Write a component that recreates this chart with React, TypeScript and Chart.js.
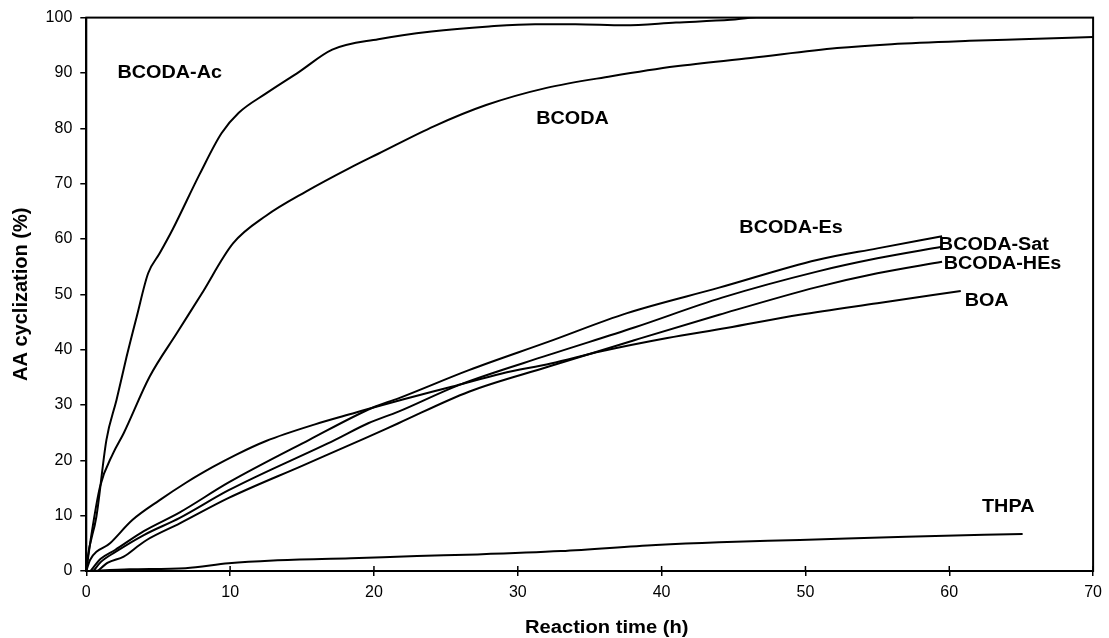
import React, { useEffect, useRef } from "react";
import { Chart, registerables } from "chart.js";

Chart.register(...registerables);

const FONT = '"Liberation Sans", Arial, Helvetica, sans-serif';

// Reaction time (h) / AA cyclization (%)
const acX = [0, 0.07, 0.7, 1.4, 2.1, 2.8, 3.5, 4.3, 5.1, 6, 7.9, 9.4, 10.6, 12.5, 14.8, 17.1, 20.3, 24, 28, 31.2, 34, 37.4, 41, 44.8, 46.6, 57.5];
const acY = [0, 2, 9.8, 23.7, 30.9, 38.7, 45.9, 53.8, 57.4, 61.7, 71.8, 79.1, 82.8, 86.3, 90.2, 94.2, 96.1, 97.5, 98.4, 98.8, 98.8, 98.6, 99.1, 99.6, 100, 100];

const bcodaX = [0, 0.37, 0.95, 1.87, 2.6, 4.4, 6.3, 8, 10.2, 12.5, 15.3, 18.3, 20.3, 24.2, 27.8, 32, 36.5, 41, 46.2, 52.2, 56, 61.4, 65, 70];
const bcodaY = [0, 6.8, 15.2, 21.3, 24.9, 35.1, 43, 50, 59.2, 64.2, 68.6, 72.8, 75.4, 80.4, 84.2, 87.3, 89.4, 91.2, 92.7, 94.5, 95.2, 95.8, 96.1, 96.5];

const esX = [0.3, 1, 2, 4, 6.5, 9.9, 15.5, 19.9, 21.7, 26.6, 32.1, 37.6, 44, 50.8, 55, 59.5];
const esY = [0, 2.2, 3.8, 7.2, 10.6, 16, 23.7, 29.5, 31.2, 36.3, 41.4, 46.6, 51.2, 56.2, 58.3, 60.5];

const satX = [0.5, 1, 2, 4, 6.5, 9.9, 17.3, 19.6, 21.7, 25.9, 32.1, 38.1, 44.2, 50.8, 55, 59.5];
const satY = [0, 1.6, 3.4, 6.5, 9.6, 14.6, 23.7, 26.7, 28.8, 33.6, 39, 44, 49.4, 54.1, 56.5, 58.6];

const hesX = [0.8, 1.5, 2.6, 3.7, 4.2, 6.5, 9.9, 15, 19.4, 21.7, 26.6, 32.1, 38.1, 44, 50.8, 55, 59.5];
const hesY = [0, 1.5, 2.6, 4.7, 5.6, 8.6, 13.2, 19, 24, 26.7, 32.4, 36.9, 41.7, 46.3, 51.3, 53.8, 55.9];

const boaX = [0, 0.26, 1.65, 3.2, 5.1, 6.9, 8.8, 10.4, 12.5, 15.9, 18.7, 19.9, 22, 25.4, 28.9, 32.3, 35.8, 40.4, 44.5, 49.6, 55, 60.8];
const boaY = [0, 2, 5, 9.2, 12.8, 15.9, 18.8, 21.0, 23.5, 26.5, 28.6, 29.5, 31, 33.3, 35.7, 37.5, 39.7, 42.1, 43.9, 46.3, 48.4, 50.6];

const thpaX = [0, 3, 6.9, 9.9, 13, 18.4, 23, 27.2, 33, 39.6, 44, 49.6, 57, 65.1];
const thpaY = [0, 0.3, 0.5, 1.4, 1.9, 2.3, 2.7, 3.0, 3.6, 4.7, 5.2, 5.6, 6.2, 6.7];

const seriesNames = ["BCODA-Ac", "BCODA", "BCODA-Es", "BCODA-Sat", "BCODA-HEs", "BOA", "THPA"];
const seriesX = [acX, bcodaX, esX, satX, hesX, boaX, thpaX];
const seriesY = [acY, bcodaY, esY, satY, hesY, boaY, thpaY];

// label anchors (data coordinates)
const labelX = [5.8, 33.8, 49.0, 63.1, 63.7, 62.6, 64.1];
const labelY = [90.0, 81.7, 61.9, 58.9, 55.4, 48.7, 11.6];

const xTitle = "Reaction time (h)";
const xTicks = [0, 10, 20, 30, 40, 50, 60, 70];

function stretchedText(ctx: any, text: string, x: number, y: number, sx: number) {
  ctx.save();
  ctx.translate(x, y);
  ctx.scale(sx, 1);
  ctx.fillText(text, 0, 0);
  ctx.restore();
}

const framePlugin = {
  id: "frameAndLabels",
  afterDatasetsDraw(chart: any) {
    const { ctx, chartArea, scales } = chart;
    const xs = scales.x;
    const ys = scales.y;
    ctx.save();
    ctx.strokeStyle = "#000";
    ctx.lineWidth = 2;
    ctx.strokeRect(chartArea.left, chartArea.top, chartArea.right - chartArea.left, chartArea.bottom - chartArea.top);
    // upper half of crossing x ticks
    ctx.lineWidth = 1.5;
    for (const t of xTicks) {
      const px = xs.getPixelForValue(t);
      ctx.beginPath();
      ctx.moveTo(px, chartArea.bottom - 5);
      ctx.lineTo(px, chartArea.bottom);
      ctx.stroke();
    }
    ctx.fillStyle = "#000";
    ctx.font = `bold 18px ${FONT}`;
    ctx.textAlign = "center";
    ctx.textBaseline = "middle";
    seriesNames.forEach((n, i) => {
      stretchedText(ctx, n, xs.getPixelForValue(labelX[i]), ys.getPixelForValue(labelY[i]), 1.1);
    });
    // x axis title, sitting a little right of centre as in the original
    ctx.font = `bold 18px ${FONT}`;
    stretchedText(ctx, xTitle, (chartArea.left + chartArea.right) / 2 + 17, chart.height - 10, 1.12);
    ctx.restore();
  },
};

export default function App() {
  const ref = useRef<HTMLCanvasElement>(null);
  useEffect(() => {
    const datasets = seriesNames.map((name, i) => ({
      label: name,
      data: seriesX[i].map((x, j) => ({ x, y: seriesY[i][j] })),
      borderColor: "#000",
      backgroundColor: "#000",
      borderWidth: 2,
      pointRadius: 0,
      fill: false,
      cubicInterpolationMode: "monotone" as const,
    }));
    const chart = new Chart(ref.current!, {
      type: "line",
      data: { datasets },
      plugins: [framePlugin],
      options: {
        animation: false,
        responsive: true,
        maintainAspectRatio: false,
        layout: { padding: { top: 17.5, right: 12, left: 0, bottom: 0 } },
        plugins: { legend: { display: false }, tooltip: { enabled: false } },
        scales: {
          x: {
            type: "linear",
            min: 0,
            max: 70,
            afterFit: (s: any) => { s.height = 67; },
            border: { display: true, color: "#000", width: 2 },
            grid: { drawOnChartArea: false, drawTicks: true, tickLength: 5, color: "#000", lineWidth: 1.5 },
            ticks: { stepSize: 10, color: "#000", font: { family: FONT, size: 16 }, padding: 7, maxRotation: 0 },
            title: { display: false, text: xTitle },
          },
          y: {
            type: "linear",
            min: 0,
            max: 100,
            afterFit: (s: any) => { s.width = 86.3; },
            border: { display: true, color: "#000", width: 2 },
            grid: { drawOnChartArea: false, drawTicks: true, tickLength: 6, color: "#000", lineWidth: 1.5 },
            ticks: { stepSize: 10, color: "#000", font: { family: FONT, size: 16 }, padding: 8 },
            title: {
              display: true,
              text: "AA cyclization (%)",
              color: "#000",
              font: { family: FONT, size: 20, weight: "bold", lineHeight: 1 },
              padding: { top: 11.5, bottom: 0 },
            },
          },
        },
      },
    });
    return () => chart.destroy();
  }, []);
  return (
    <div style={{ position: "absolute", left: 0, top: 0, width: 1109, height: 638, background: "#fff" }}>
      <canvas ref={ref} />
    </div>
  );
}
